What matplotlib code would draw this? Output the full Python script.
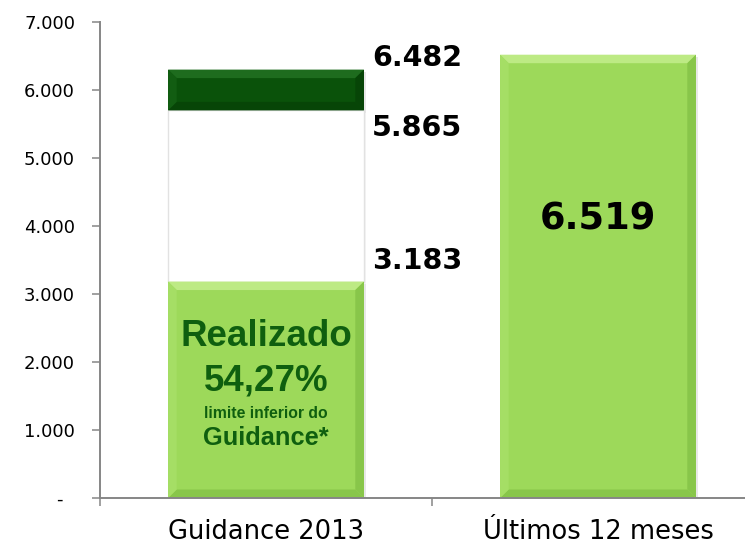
import matplotlib
matplotlib.use('Agg')
import matplotlib.pyplot as plt
from matplotlib.patches import Polygon

categorias = ['Guidance 2013', 'Últimos 12 meses']
realizado = [3183]          # parte realizada do guidance
guidance_inferior = [5700]  # base da faixa escura (como desenhada)
guidance_superior = [6300]  # topo da faixa escura (como desenhada)
ultimos_12 = [6519]
rotulos_guidance = ['6.482', '5.865', '3.183']
rotulos_y = [6470, 5440, 3485]
yticks = [0, 1000, 2000, 3000, 4000, 5000, 6000, 7000]
ytick_labels = ['-  ', '1.000', '2.000', '3.000', '4.000', '5.000', '6.000', '7.000']

verde = '#9dd95a'
verde_claro = '#bdea84'
verde_lado = '#a5de65'
verde_escuro_lado = '#88c64a'
escuro = '#0a520a'
escuro_claro = '#1e6c1e'
escuro_lado = '#125d12'
escuro_sombra = '#074507'
texto_verde = '#0f5f0f'
cinza = '#868686'

largura = 0.59
bx, by = 0.026, 125


def bevel(ax, xc, y0, y1, base, light, side, dark):
    x0, x1 = xc - largura / 2, xc + largura / 2
    ax.bar(xc + 0.006, y1 - y0, largura, bottom=y0 - 35, color='#000000', alpha=0.09, zorder=1)
    ax.bar(xc, y1 - y0, largura, bottom=y0, color=base, zorder=2)
    b = min(by, (y1 - y0) / 3)
    ax.add_patch(Polygon([(x0, y1), (x1, y1), (x1 - bx, y1 - b), (x0 + bx, y1 - b)], color=light, zorder=3, lw=0))
    ax.add_patch(Polygon([(x0, y0), (x1, y0), (x1 - bx, y0 + b), (x0 + bx, y0 + b)], color=dark, zorder=3, lw=0))
    ax.add_patch(Polygon([(x0, y0), (x0, y1), (x0 + bx, y1 - b), (x0 + bx, y0 + b)], color=side, zorder=3, lw=0))
    ax.add_patch(Polygon([(x1, y0), (x1, y1), (x1 - bx, y1 - b), (x1 - bx, y0 + b)], color=dark, zorder=3, lw=0))


fig = plt.figure(figsize=(7.45, 5.45), dpi=100)
ax = fig.add_axes([100 / 745, 47 / 545, 645 / 745, 476 / 545])

x = [0, 1]
# faixa branca do guidance
ax.bar(x[0] + 0.006, guidance_inferior[0] - realizado[0], largura, bottom=realizado[0] - 35,
       color='#000000', alpha=0.04, zorder=1)
ax.bar(x[0], guidance_inferior[0] - realizado[0], largura, bottom=realizado[0],
       color='white', edgecolor='#e2e2e2', lw=1, zorder=2)
bevel(ax, x[0], 0, realizado[0], verde, verde_claro, verde_lado, verde_escuro_lado)
bevel(ax, x[0], guidance_inferior[0], guidance_superior[0], escuro, escuro_claro, escuro_lado, escuro_sombra)
bevel(ax, x[1], 0, ultimos_12[0], verde, verde_claro, verde_lado, verde_escuro_lado)

for lab, yy in zip(rotulos_guidance, rotulos_y):
    ax.text(x[0] + largura / 2 + 0.025, yy, lab, ha='left', va='center',
            fontsize=20.5, fontweight='bold', family='DejaVu Sans', zorder=5)

ax.text(x[1], 4100, '6.519', ha='center', va='center', fontsize=26.5,
        fontweight='bold', family='DejaVu Sans', zorder=5)

arial = 'Liberation Sans'
ax.text(x[0], 2380, 'Realizado', ha='center', va='center', fontsize=26.5,
        fontweight='bold', family=arial, color=texto_verde, zorder=5)
ax.text(x[0], 1720, '54,27%', ha='center', va='center', fontsize=26.5,
        fontweight='bold', family=arial, color=texto_verde, zorder=5)
ax.text(x[0], 1250, 'limite inferior do', ha='center', va='center', fontsize=11.3,
        fontweight='bold', family=arial, color=texto_verde, zorder=5)
ax.text(x[0], 880, 'Guidance*', ha='center', va='center', fontsize=18.3,
        fontweight='bold', family=arial, color=texto_verde, zorder=5)

ax.set_yticks(yticks)
ax.set_yticklabels(ytick_labels, fontsize=13)
ax.set_xticks(x)
ax.set_xticklabels(categorias, fontsize=18.5)
ax.set_xticks([-0.5, 0.5], minor=True)
ax.set_xlim(-0.5, -0.5 + 645 / 332)
ax.set_ylim(0, 7000)
ax.tick_params(axis='x', which='major', length=0, pad=15)
ax.tick_params(axis='x', which='minor', length=6, width=1.1, color=cinza, direction='out')
ax.tick_params(axis='y', length=6, width=1.1, color=cinza, direction='out', pad=12)

for s in ['top', 'right']:
    ax.spines[s].set_visible(False)
for s in ['left', 'bottom']:
    ax.spines[s].set_color(cinza)
    ax.spines[s].set_linewidth(1.4)
    ax.spines[s].set_zorder(6)

fig.savefig('out.png', dpi=100)
